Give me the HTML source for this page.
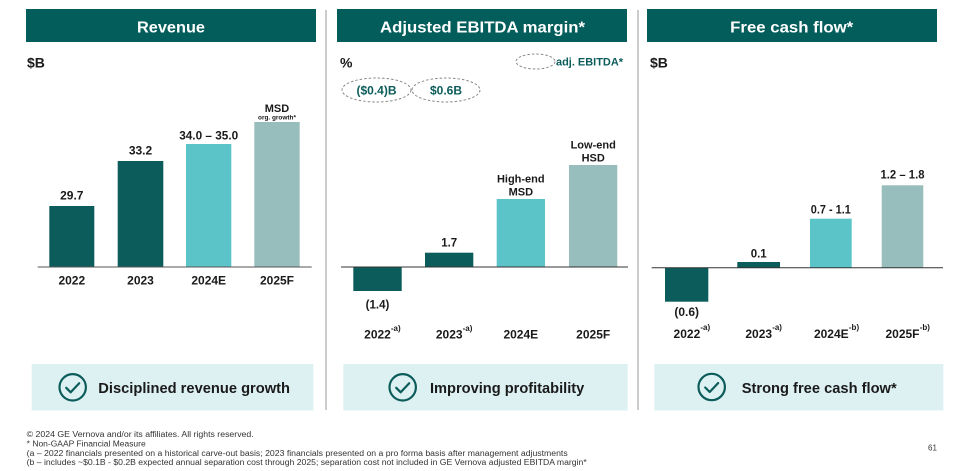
<!DOCTYPE html>
<html>
<head>
<meta charset="utf-8">
<style>
html,body{margin:0;padding:0;background:#fff;}
svg{display:block;}
text{font-family:"Liberation Sans",Arial,sans-serif;}
.b{font-weight:bold;}
</style>
</head>
<body>
<svg width="960" height="471" viewBox="0 0 960 471" xmlns="http://www.w3.org/2000/svg">
  <rect width="960" height="471" fill="#ffffff"/>

  <!-- Headers -->
  <rect x="26" y="9" width="290" height="33" fill="#035e5b"/>
  <rect x="337" y="9" width="290" height="33" fill="#035e5b"/>
  <rect x="647" y="9" width="290" height="33" fill="#035e5b"/>
  <text x="171" y="32.5" class="b" font-size="16" fill="#fff" text-anchor="middle" textLength="68" lengthAdjust="spacingAndGlyphs">Revenue</text>
  <text x="482.5" y="32.5" class="b" font-size="16" fill="#fff" text-anchor="middle" textLength="205" lengthAdjust="spacingAndGlyphs">Adjusted EBITDA margin*</text>
  <text x="791.7" y="32.5" class="b" font-size="16" fill="#fff" text-anchor="middle" textLength="123" lengthAdjust="spacingAndGlyphs">Free cash flow*</text>

  <!-- Dividers -->
  <line x1="326" y1="10" x2="326" y2="410" stroke="#9a9a9a" stroke-width="1"/>
  <line x1="638" y1="10" x2="638" y2="410" stroke="#9a9a9a" stroke-width="1"/>

  <!-- Units -->
  <text x="27" y="67.3" class="b" font-size="14" fill="#1a1a1a">$B</text>
  <text x="340" y="67.3" class="b" font-size="14" fill="#1a1a1a">%</text>
  <text x="650" y="67.3" class="b" font-size="14" fill="#1a1a1a">$B</text>

  <!-- Panel 1: Revenue -->
  <rect x="49.3" y="206" width="45" height="61" fill="#0b5c5a"/>
  <rect x="117.7" y="161" width="45.6" height="106" fill="#0b5c5a"/>
  <rect x="186" y="144" width="45.3" height="123" fill="#5bc4c9"/>
  <rect x="254.3" y="122" width="45.4" height="145" fill="#97bdbc"/>
  <line x1="37.7" y1="267" x2="311.7" y2="267" stroke="#555" stroke-width="1"/>
  <text x="71.8" y="199.3" class="b" font-size="12" fill="#1a1a1a" text-anchor="middle">29.7</text>
  <text x="140.5" y="154.3" class="b" font-size="12" fill="#1a1a1a" text-anchor="middle">33.2</text>
  <text x="208.7" y="139.3" class="b" font-size="12" fill="#1a1a1a" text-anchor="middle" textLength="59" lengthAdjust="spacingAndGlyphs">34.0 – 35.0</text>
  <text x="277" y="112" class="b" font-size="11" fill="#1a1a1a" text-anchor="middle">MSD</text>
  <text x="277" y="119.5" class="b" font-size="6" fill="#1a1a1a" text-anchor="middle" textLength="38" lengthAdjust="spacingAndGlyphs">org. growth*</text>
  <text x="71.8" y="284.3" class="b" font-size="12" fill="#1a1a1a" text-anchor="middle">2022</text>
  <text x="140.5" y="284.3" class="b" font-size="12" fill="#1a1a1a" text-anchor="middle">2023</text>
  <text x="208.7" y="284.3" class="b" font-size="12" fill="#1a1a1a" text-anchor="middle">2024E</text>
  <text x="277" y="284.3" class="b" font-size="12" fill="#1a1a1a" text-anchor="middle">2025F</text>

  <!-- Panel 2: EBITDA margin -->
  <ellipse cx="535.5" cy="61.5" rx="19.5" ry="7.5" fill="none" stroke="#888" stroke-width="1" stroke-dasharray="2.5,2"/>
  <text x="556" y="65.5" class="b" font-size="11" fill="#0b5c5a" textLength="67" lengthAdjust="spacingAndGlyphs">adj. EBITDA*</text>
  <ellipse cx="376.5" cy="90" rx="34.5" ry="12" fill="none" stroke="#888" stroke-width="1" stroke-dasharray="2.5,2"/>
  <ellipse cx="446" cy="90" rx="34" ry="12" fill="none" stroke="#888" stroke-width="1" stroke-dasharray="2.5,2"/>
  <text x="376.5" y="94.3" class="b" font-size="12" fill="#0b5c5a" text-anchor="middle" textLength="40" lengthAdjust="spacingAndGlyphs">($0.4)B</text>
  <text x="446" y="94.3" class="b" font-size="12" fill="#0b5c5a" text-anchor="middle">$0.6B</text>

  <rect x="353.3" y="267" width="48.4" height="24" fill="#0b5c5a"/>
  <rect x="425" y="252.7" width="48.3" height="14.3" fill="#0b5c5a"/>
  <rect x="496.7" y="199" width="48.3" height="68" fill="#5bc4c9"/>
  <rect x="569" y="165" width="48.3" height="102" fill="#97bdbc"/>
  <line x1="341" y1="267" x2="628" y2="267" stroke="#333" stroke-width="1"/>
  <text x="377.5" y="308.3" class="b" font-size="11.5" fill="#1a1a1a" text-anchor="middle">(1.4)</text>
  <text x="449.2" y="246.3" class="b" font-size="11.5" fill="#1a1a1a" text-anchor="middle">1.7</text>
  <text x="520.8" y="182.3" class="b" font-size="11" fill="#1a1a1a" text-anchor="middle">High-end</text>
  <text x="520.8" y="195.3" class="b" font-size="11" fill="#1a1a1a" text-anchor="middle">MSD</text>
  <text x="593.2" y="148.3" class="b" font-size="11" fill="#1a1a1a" text-anchor="middle">Low-end</text>
  <text x="593.2" y="161.3" class="b" font-size="11" fill="#1a1a1a" text-anchor="middle">HSD</text>
  <text x="377.5" y="338.5" class="b" font-size="12" fill="#1a1a1a" text-anchor="middle">2022</text>
  <text x="390.9" y="331" class="b" font-size="8" fill="#1a1a1a">-a)</text>
  <text x="449.2" y="338.5" class="b" font-size="12" fill="#1a1a1a" text-anchor="middle">2023</text>
  <text x="462.6" y="331" class="b" font-size="8" fill="#1a1a1a">-a)</text>
  <text x="520.8" y="338.5" class="b" font-size="12" fill="#1a1a1a" text-anchor="middle">2024E</text>
  <text x="593.2" y="338.5" class="b" font-size="12" fill="#1a1a1a" text-anchor="middle">2025F</text>

  <!-- Panel 3: FCF -->
  <rect x="665" y="267.7" width="43.3" height="34" fill="#0b5c5a"/>
  <rect x="737.3" y="262" width="42.7" height="5.7" fill="#0b5c5a"/>
  <rect x="810" y="218.7" width="41.7" height="49" fill="#5bc4c9"/>
  <rect x="881.7" y="185.3" width="41.6" height="82.4" fill="#97bdbc"/>
  <line x1="651.7" y1="267.7" x2="943" y2="267.7" stroke="#333" stroke-width="1"/>
  <text x="686.7" y="316" class="b" font-size="12" fill="#1a1a1a" text-anchor="middle">(0.6)</text>
  <text x="758.7" y="257.3" class="b" font-size="11.5" fill="#1a1a1a" text-anchor="middle">0.1</text>
  <text x="830.8" y="213.3" class="b" font-size="11.5" fill="#1a1a1a" text-anchor="middle" textLength="40" lengthAdjust="spacingAndGlyphs">0.7 - 1.1</text>
  <text x="902.5" y="178.3" class="b" font-size="11.5" fill="#1a1a1a" text-anchor="middle" textLength="44" lengthAdjust="spacingAndGlyphs">1.2 – 1.8</text>
  <text x="686.9" y="337.8" class="b" font-size="12" fill="#1a1a1a" text-anchor="middle">2022</text>
  <text x="700.4" y="330" class="b" font-size="8" fill="#1a1a1a">-a)</text>
  <text x="758.7" y="337.8" class="b" font-size="12" fill="#1a1a1a" text-anchor="middle">2023</text>
  <text x="772.2" y="330" class="b" font-size="8" fill="#1a1a1a">-a)</text>
  <text x="831.3" y="337.8" class="b" font-size="12" fill="#1a1a1a" text-anchor="middle">2024E</text>
  <text x="848.9" y="330" class="b" font-size="8" fill="#1a1a1a">-b)</text>
  <text x="902.5" y="337.8" class="b" font-size="12" fill="#1a1a1a" text-anchor="middle">2025F</text>
  <text x="919.7" y="330" class="b" font-size="8" fill="#1a1a1a">-b)</text>

  <!-- Bottom boxes -->
  <rect x="31.7" y="364" width="281.6" height="46.5" fill="#ddf1f3"/>
  <rect x="343.3" y="364" width="284.4" height="46.5" fill="#ddf1f3"/>
  <rect x="654.3" y="364" width="289" height="46.5" fill="#ddf1f3"/>

  <g fill="none" stroke="#0b5c5a" stroke-width="2.2" stroke-linecap="round" stroke-linejoin="round">
    <circle cx="72.7" cy="387.3" r="13.2"/>
    <polyline points="66.2,387.8 70.7,392.3 79.2,383.3"/>
    <circle cx="402.7" cy="387.3" r="13.2"/>
    <polyline points="396.2,387.8 400.7,392.3 409.2,383.3"/>
    <circle cx="711.7" cy="387" r="13.2"/>
    <polyline points="705.2,387.5 709.7,392 718.2,383"/>
  </g>

  <text x="98.3" y="392.8" class="b" font-size="15" fill="#1a1a1a" textLength="191.7" lengthAdjust="spacingAndGlyphs">Disciplined revenue growth</text>
  <text x="430" y="392.8" class="b" font-size="15" fill="#1a1a1a" textLength="154.3" lengthAdjust="spacingAndGlyphs">Improving profitability</text>
  <text x="741.7" y="392.8" class="b" font-size="15" fill="#1a1a1a" textLength="155" lengthAdjust="spacingAndGlyphs">Strong free cash flow*</text>

  <!-- Footer -->
  <text x="26.7" y="437" font-size="8" fill="#333" textLength="227" lengthAdjust="spacingAndGlyphs">© 2024 GE Vernova and/or its affiliates. All rights reserved.</text>
  <text x="26.7" y="446.5" font-size="8" fill="#333" textLength="119" lengthAdjust="spacingAndGlyphs">* Non-GAAP Financial Measure</text>
  <text x="26.7" y="456" font-size="8" fill="#333" textLength="541" lengthAdjust="spacingAndGlyphs">(a – 2022 financials presented on a historical carve-out basis; 2023 financials presented on a pro forma basis after management adjustments</text>
  <text x="26.7" y="465" font-size="8" fill="#333" textLength="560" lengthAdjust="spacingAndGlyphs">(b – includes ~$0.1B - $0.2B expected annual separation cost through 2025; separation cost not included in GE Vernova adjusted EBITDA margin*</text>
  <text x="928" y="450.5" font-size="8" fill="#333">61</text>
</svg>
</body>
</html>
